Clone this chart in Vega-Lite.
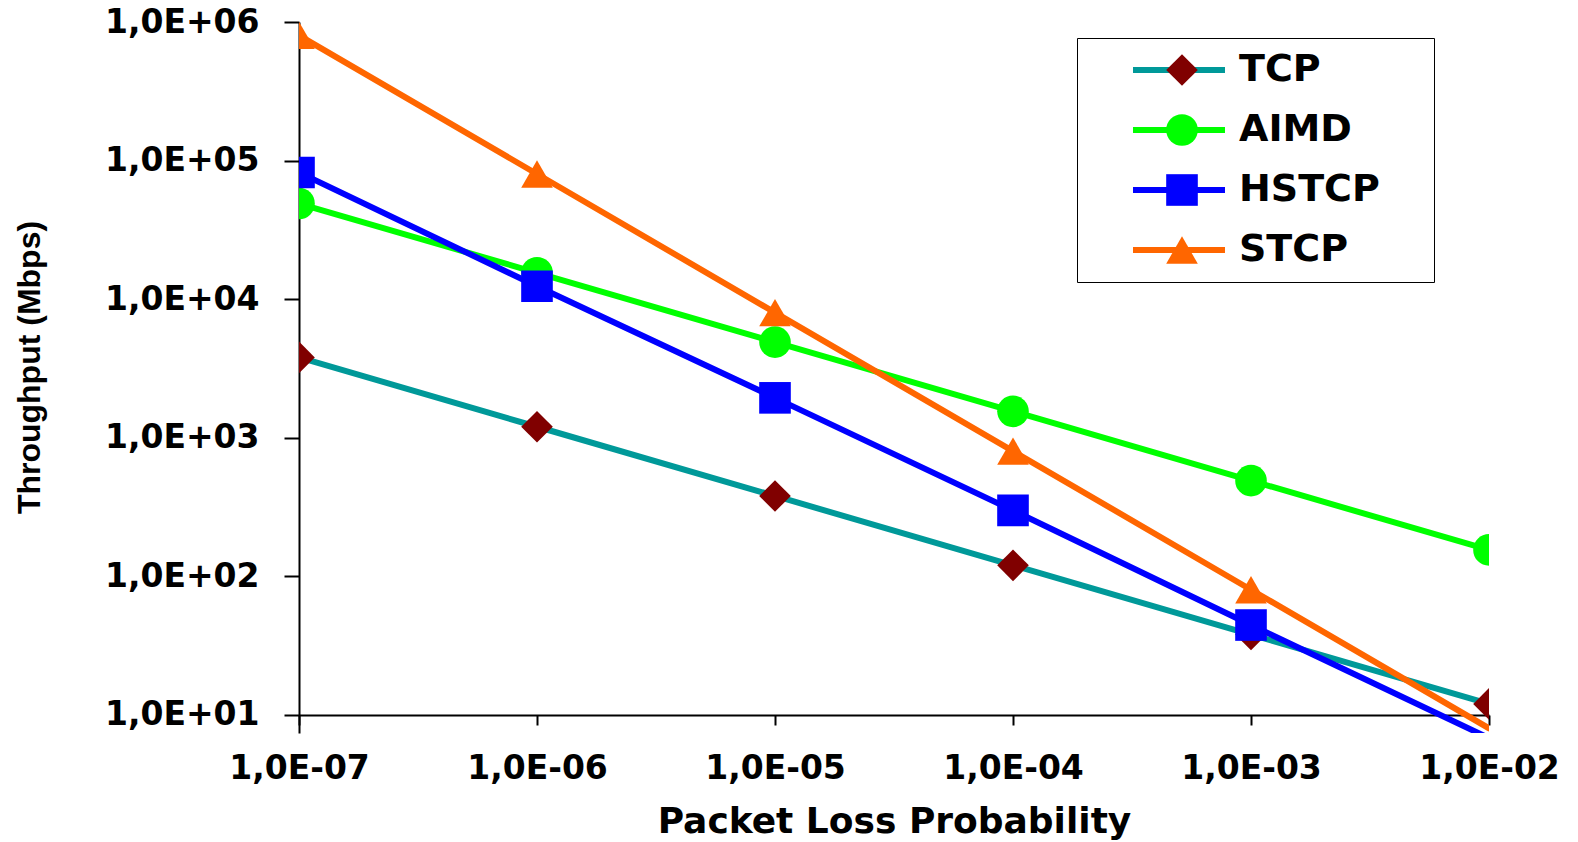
{
  "$schema": "https://vega.github.io/schema/vega-lite/v6.json",
  "autosize": {"type": "none"},
  "padding": {"left": 299, "top": 22, "right": 89, "bottom": 109},
  "width": 1190,
  "height": 711,
  "background": "white",
  "config": {
    "view": {"stroke": null},
    "axis": {
      "grid": false,
      "domainColor": "black",
      "domainWidth": 2,
      "tickColor": "black",
      "tickWidth": 2,
      "labelColor": "black",
      "labelFont": "DejaVu Sans",
      "labelFontWeight": "bold",
      "labelFontSize": 33,
      "titleColor": "black",
      "titleFontWeight": "bold"
    }
  },
  "data": {
    "values": [
      {"p": 1e-7, "series": "TCP", "throughput": 3800},
      {"p": 1e-6, "series": "TCP", "throughput": 1200},
      {"p": 1e-5, "series": "TCP", "throughput": 380},
      {"p": 1e-4, "series": "TCP", "throughput": 120},
      {"p": 1e-3, "series": "TCP", "throughput": 38},
      {"p": 1e-2, "series": "TCP", "throughput": 12},
      {"p": 1e-7, "series": "AIMD", "throughput": 49000},
      {"p": 1e-6, "series": "AIMD", "throughput": 15500},
      {"p": 1e-5, "series": "AIMD", "throughput": 4900},
      {"p": 1e-4, "series": "AIMD", "throughput": 1550},
      {"p": 1e-3, "series": "AIMD", "throughput": 490},
      {"p": 1e-2, "series": "AIMD", "throughput": 155},
      {"p": 1e-7, "series": "HSTCP", "throughput": 82000},
      {"p": 1e-6, "series": "HSTCP", "throughput": 12400},
      {"p": 1e-5, "series": "HSTCP", "throughput": 1940},
      {"p": 1e-4, "series": "HSTCP", "throughput": 299},
      {"p": 1e-3, "series": "HSTCP", "throughput": 44.5},
      {"p": 1e-2, "series": "HSTCP", "throughput": 6.8},
      {"p": 1e-7, "series": "STCP", "throughput": 800000},
      {"p": 1e-6, "series": "STCP", "throughput": 80000},
      {"p": 1e-5, "series": "STCP", "throughput": 8000},
      {"p": 1e-4, "series": "STCP", "throughput": 800},
      {"p": 1e-3, "series": "STCP", "throughput": 80},
      {"p": 1e-2, "series": "STCP", "throughput": 8}
    ]
  },
  "encoding": {
    "x": {
      "field": "p",
      "type": "quantitative",
      "scale": {"type": "log", "domain": [1e-7, 1e-2], "nice": false},
      "axis": {
        "values": [1e-7, 1e-6, 1e-5, 1e-4, 1e-3, 1e-2],
        "labelExpr": "'1,0E-0' + round(-log(datum.value) / LN10)",
        "offset": -18,
        "tickSize": 10,
        "labelPadding": 27,
        "labelFlush": false,
        "labelOverlap": false,
        "title": "Packet Loss Probability",
        "titleFont": "DejaVu Sans",
        "titleFontSize": 36,
        "titlePadding": 19
      }
    },
    "y": {
      "field": "throughput",
      "type": "quantitative",
      "scale": {"type": "log", "domain": [7.4, 1000000], "nice": false, "zero": false},
      "axis": {
        "values": [10, 100, 1000, 10000, 100000, 1000000],
        "labelExpr": "'1,0E+0' + round(log(datum.value) / LN10)",
        "tickSize": 15,
        "labelPadding": 25,
        "labelFlush": false,
        "labelOverlap": false,
        "title": "Throughput (Mbps)",
        "titleFont": "Liberation Sans",
        "titleFontSize": 32,
        "titlePadding": 58,
        "titleY": 345
      }
    }
  },
  "layer": [
    {
      "mark": {"type": "line", "strokeWidth": 6, "clip": true, "strokeCap": "round", "strokeJoin": "round"},
      "encoding": {
        "stroke": {
          "field": "series",
          "type": "nominal",
          "sort": ["TCP", "AIMD", "HSTCP", "STCP"],
          "scale": {
            "range": ["#009999", "#00ff00", "#0000ff", "#ff6600"]
          },
          "legend": {
            "orient": "none",
            "legendX": 778,
            "legendY": 16,
            "title": " ",
            "titleOrient": "left",
            "titleFontSize": 10,
            "titlePadding": 70,
            "symbolType": "M-2.909,0H2.909",
            "symbolSize": 1000,
            "symbolStrokeWidth": 6,
            "labelFont": "DejaVu Sans",
            "labelFontSize": 38,
            "labelFontWeight": "bold",
            "labelOpacity": 0,
            "labelExpr": "'HSTCPXJ'",
            "labelOffset": 38,
            "labelLimit": 400,
            "rowPadding": 22,
            "padding": 13,
            "strokeColor": "black",
            "fillColor": "white",
            "zindex": 1
          }
        },
        "order": {"field": "p"}
      }
    },
    {
      "transform": [{"filter": "datum.throughput >= 10"}],
      "mark": {"type": "point", "filled": true, "size": 1000, "opacity": 1, "strokeWidth": 0, "clip": true},
      "encoding": {
        "fill": {
          "field": "series",
          "type": "nominal",
          "scale": {
            "domain": ["TCP", "AIMD", "HSTCP", "STCP"],
            "range": ["#800000", "#00ff00", "#0000ff", "#ff6600"]
          },
          "legend": {
            "orient": "none",
            "legendX": 851,
            "legendY": 16,
            "title": null,
            "symbolSize": 1000,
            "symbolStrokeWidth": 0,
            "labelFont": "DejaVu Sans",
            "labelFontSize": 38,
            "labelFontWeight": "bold",
            "labelColor": "black",
            "labelOffset": 38,
            "rowPadding": 22,
            "padding": 13,
            "zindex": 2
          }
        },
        "shape": {
          "field": "series",
          "type": "nominal",
          "scale": {
            "domain": ["TCP", "AIMD", "HSTCP", "STCP"],
            "range": ["diamond", "circle", "square", "triangle-up"]
          },
          "legend": {
            "orient": "none",
            "legendX": 851,
            "legendY": 16,
            "title": null,
            "symbolSize": 1000,
            "symbolStrokeWidth": 0,
            "labelFont": "DejaVu Sans",
            "labelFontSize": 38,
            "labelFontWeight": "bold",
            "labelColor": "black",
            "labelOffset": 38,
            "rowPadding": 22,
            "padding": 13,
            "zindex": 2
          }
        }
      }
    }
  ]
}
